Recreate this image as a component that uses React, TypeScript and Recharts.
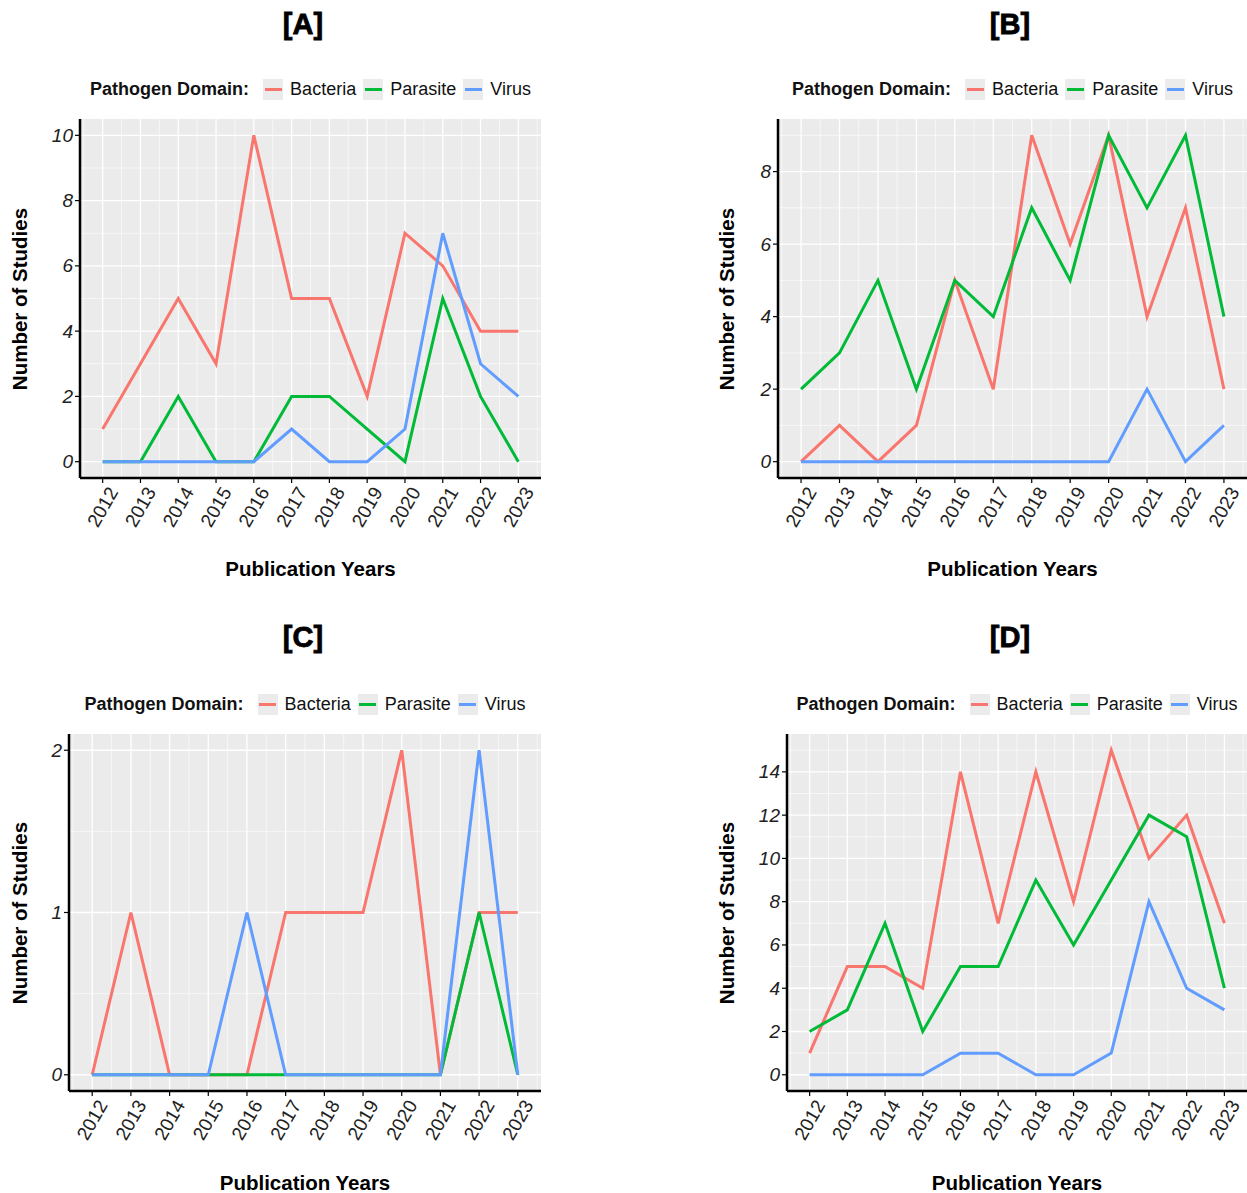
import React from 'react';
import { LineChart, Line, XAxis, YAxis, CartesianGrid } from 'recharts';

const years = [2012, 2013, 2014, 2015, 2016, 2017, 2018, 2019, 2020, 2021, 2022, 2023];

// [A]
const bacteriaA = [1, 3, 5, 3, 10, 5, 5, 2, 7, 6, 4, 4];
const parasiteA = [0, 0, 2, 0, 0, 2, 2, 1, 0, 5, 2, 0];
const virusA = [0, 0, 0, 0, 0, 1, 0, 0, 1, 7, 3, 2];
const yTicksA = [0, 2, 4, 6, 8, 10];
const yMinorA = [1, 3, 5, 7, 9];

// [B]
const bacteriaB = [0, 1, 0, 1, 5, 2, 9, 6, 9, 4, 7, 2];
const parasiteB = [2, 3, 5, 2, 5, 4, 7, 5, 9, 7, 9, 4];
const virusB = [0, 0, 0, 0, 0, 0, 0, 0, 0, 2, 0, 1];
const yTicksB = [0, 2, 4, 6, 8];
const yMinorB = [1, 3, 5, 7, 9];

// [C]
const bacteriaC = [0, 1, 0, 0, 0, 1, 1, 1, 2, 0, 1, 1];
const parasiteC = [0, 0, 0, 0, 0, 0, 0, 0, 0, 0, 1, 0];
const virusC = [0, 0, 0, 0, 1, 0, 0, 0, 0, 0, 2, 0];
const yTicksC = [0, 1, 2];
const yMinorC = [0.5, 1.5];

// [D]
const bacteriaD = [1, 5, 5, 4, 14, 7, 14, 8, 15, 10, 12, 7];
const parasiteD = [2, 3, 7, 2, 5, 5, 9, 6, 9, 12, 11, 4];
const virusD = [0, 0, 0, 0, 1, 1, 0, 0, 1, 8, 4, 3];
const yTicksD = [0, 2, 4, 6, 8, 10, 12, 14];
const yMinorD = [1, 3, 5, 7, 9, 11, 13, 15];

const xMinor = [...years.map((y) => y - 0.5), 2023.5];

const COLORS = {
  bacteria: '#F8766D',
  parasite: '#00BA38',
  virus: '#619CFF',
};

const FONT = '"Liberation Sans", Arial, Helvetica, sans-serif';

const XTick = ({ x, y, payload }: any) => (
  <g transform={`translate(${x},${y + 22}) rotate(-60)`}>
    <text textAnchor="middle" dominantBaseline="central" fontSize={19} fill="#222" fontFamily={FONT}>
      {payload.value}
    </text>
  </g>
);

const YTick = ({ x, y, payload }: any) => (
  <text x={x} y={y} textAnchor="end" dominantBaseline="central" fontSize={19} fontStyle="italic" fill="#222" fontFamily={FONT}>
    {payload.value}
  </text>
);

function LegendRow({ cx, cy }: { cx: number; cy: number }) {
  const items = [
    { name: 'Bacteria', color: COLORS.bacteria },
    { name: 'Parasite', color: COLORS.parasite },
    { name: 'Virus', color: COLORS.virus },
  ];
  return (
    <div style={{
      position: 'absolute', left: cx - 300, width: 600, top: cy - 12, height: 24,
      display: 'flex', justifyContent: 'center', alignItems: 'center',
      fontFamily: FONT, fontSize: '18px', color: '#111', whiteSpace: 'nowrap',
    }}>
      <span style={{ fontWeight: 700, marginRight: '14px' }}>Pathogen Domain:</span>
      {items.map((it, i) => (
        <span key={it.name} style={{ display: 'flex', alignItems: 'center', marginRight: i < 2 ? '7px' : 0 }}>
          <span style={{
            width: 20, height: 21, background: '#ebebeb', display: 'flex',
            alignItems: 'center', justifyContent: 'center', marginRight: '7px',
          }}>
            <span style={{ width: 17, height: 3, background: it.color }} />
          </span>
          <span>{it.name}</span>
        </span>
      ))}
    </div>
  );
}

interface PanelProps {
  label: string;
  bacteria: number[];
  parasite: number[];
  virus: number[];
  yTicks: number[];
  yMinor: number[];
  plotLeft: number;
  plotRight: number;
  plotTop: number;
  plotBottom: number;
  titleX: number;
  titleY: number;
  legendY: number;
  yTitleX: number;
  xTitleY: number;
}

function Panel(p: PanelProps) {
  const data = years.map((year, i) => ({
    year,
    Bacteria: p.bacteria[i],
    Parasite: p.parasite[i],
    Virus: p.virus[i],
  }));
  const max = Math.max(...p.bacteria, ...p.parasite, ...p.virus);
  const pad = max * 0.05;
  const chartLeft = p.plotLeft - 80;
  const chartTop = p.plotTop - 10;
  const width = p.plotRight - chartLeft;
  const height = p.plotBottom - chartTop + 60;
  const cx = (p.plotLeft + p.plotRight) / 2;
  const cy = (p.plotTop + p.plotBottom) / 2;

  return (
    <>
      <div style={{
        position: 'absolute', left: p.titleX - 60, width: 120, top: p.titleY - 18, height: 36,
        textAlign: 'center', lineHeight: '36px', fontFamily: FONT, fontWeight: 900, fontSize: '29px', color: '#000',
        WebkitTextStroke: '0.8px #000',
      }}>
        {p.label}
      </div>
      <LegendRow cx={cx} cy={p.legendY} />
      <div style={{ position: 'absolute', left: chartLeft, top: chartTop }}>
        <LineChart width={width} height={height} data={data} margin={{ top: 10, right: 0, left: 0, bottom: 0 }}>
          <CartesianGrid fill="#ebebeb" stroke="#ffffff" strokeWidth={0.6} horizontalValues={p.yMinor} verticalValues={xMinor} />
          <CartesianGrid stroke="#ffffff" strokeWidth={1.3} horizontalValues={p.yTicks} verticalValues={years} />
          <XAxis
            dataKey="year"
            type="number"
            domain={[2011.4, 2023.6]}
            ticks={years}
            allowDataOverflow
            height={60}
            tickSize={5}
            axisLine={{ stroke: '#000', strokeWidth: 2.5 }}
            tickLine={{ stroke: '#000', strokeWidth: 1.2 }}
            tick={<XTick />}
            interval={0}
          />
          <YAxis
            type="number"
            domain={[-pad, max + pad]}
            ticks={p.yTicks}
            allowDataOverflow
            width={80}
            tickSize={5}
            tickMargin={2}
            axisLine={{ stroke: '#000', strokeWidth: 2.5 }}
            tickLine={{ stroke: '#000', strokeWidth: 1.2 }}
            tick={<YTick />}
            interval={0}
          />
          <Line type="linear" dataKey="Bacteria" stroke={COLORS.bacteria} strokeWidth={3} dot={false} isAnimationActive={false} />
          <Line type="linear" dataKey="Parasite" stroke={COLORS.parasite} strokeWidth={3} dot={false} isAnimationActive={false} />
          <Line type="linear" dataKey="Virus" stroke={COLORS.virus} strokeWidth={3} dot={false} isAnimationActive={false} />
        </LineChart>
      </div>
      <div style={{
        position: 'absolute', left: p.yTitleX - 150, top: cy - 14, width: 300, height: 28,
        transform: 'rotate(-90deg)', textAlign: 'center', lineHeight: '28px',
        fontFamily: FONT, fontWeight: 700, fontSize: '20.5px', color: '#000', whiteSpace: 'nowrap',
      }}>
        Number of Studies
      </div>
      <div style={{
        position: 'absolute', left: cx - 150, top: p.xTitleY - 14, width: 300, height: 28,
        textAlign: 'center', lineHeight: '28px',
        fontFamily: FONT, fontWeight: 700, fontSize: '20.5px', color: '#000', whiteSpace: 'nowrap',
      }}>
        Publication Years
      </div>
    </>
  );
}

export default function App() {
  return (
    <div style={{ position: 'absolute', left: 0, top: 0, width: 1247, height: 1193, background: '#fff', overflow: 'hidden' }}>
      <Panel label="[A]" bacteria={bacteriaA} parasite={parasiteA} virus={virusA} yTicks={yTicksA} yMinor={yMinorA}
        plotLeft={80} plotRight={541} plotTop={119} plotBottom={478}
        titleX={303} titleY={24} legendY={89} yTitleX={20} xTitleY={569} />
      <Panel label="[B]" bacteria={bacteriaB} parasite={parasiteB} virus={virusB} yTicks={yTicksB} yMinor={yMinorB}
        plotLeft={778} plotRight={1247} plotTop={119} plotBottom={478}
        titleX={1010} titleY={24} legendY={89} yTitleX={727} xTitleY={569} />
      <Panel label="[C]" bacteria={bacteriaC} parasite={parasiteC} virus={virusC} yTicks={yTicksC} yMinor={yMinorC}
        plotLeft={69} plotRight={541} plotTop={734} plotBottom={1091}
        titleX={303} titleY={637} legendY={704} yTitleX={20} xTitleY={1183} />
      <Panel label="[D]" bacteria={bacteriaD} parasite={parasiteD} virus={virusD} yTicks={yTicksD} yMinor={yMinorD}
        plotLeft={787} plotRight={1247} plotTop={734} plotBottom={1091}
        titleX={1010} titleY={637} legendY={704} yTitleX={727} xTitleY={1183} />
    </div>
  );
}
